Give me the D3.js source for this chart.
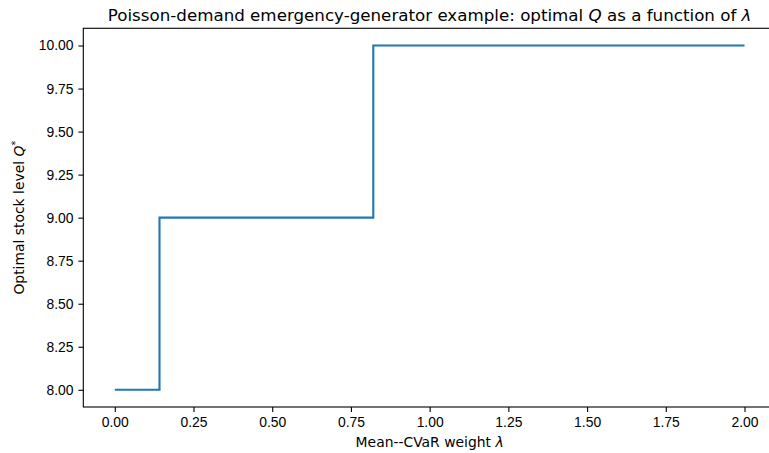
<!DOCTYPE html>
<html>
<head>
<meta charset="utf-8">
<script src="https://cdn.jsdelivr.net/npm/d3@7"></script>
<style>
  body { margin: 0; background: #fff; }
  svg { display: block; font-family: "DejaVu Sans", sans-serif; }
  .axis text { font-size: 13.9px; fill: #000; }
  .axis line, .axis path { stroke: #000; stroke-width: 1.1px; }
</style>
</head>
<body>
<div id="view"></div>
<script>
  // λ breakpoints where the optimal Q changes (step-after)
  const lambdas = [0, 0.142, 0.821, 2.0];
  const qValues = [8, 9, 10, 10];
  const xTicks = [0, 0.25, 0.5, 0.75, 1.0, 1.25, 1.5, 1.75, 2.0];
  const yTicks = [8, 8.25, 8.5, 8.75, 9, 9.25, 9.5, 9.75, 10];

  const W = 769, H = 453;
  const M = { t: 28.3, r: -7, b: 46, l: 83.3 };
  const w = W - M.l - M.r;
  const h = H - M.t - M.b;

  const svg = d3.select("#view").append("svg")
    .attr("width", W).attr("height", H);
  const g = svg.append("g").attr("transform", `translate(${M.l},${M.t})`);

  // matplotlib-ish 5% margins
  const x = d3.scaleLinear().domain([-0.1, 2.1]).range([0, w]);
  const y = d3.scaleLinear().domain([7.9, 10.1]).range([h, 0]);

  const data = lambdas.map((l, i) => ({ l, q: qValues[i] }));

  const line = d3.line()
    .x(d => x(d.l))
    .y(d => y(d.q))
    .curve(d3.curveStepAfter);

  g.append("path")
    .datum(data)
    .attr("fill", "none")
    .attr("stroke", "#1f77b4")
    .attr("stroke-width", 2.1)
    .attr("stroke-linejoin", "miter")
    .attr("d", line);

  // frame
  g.append("rect")
    .attr("x", 0).attr("y", 0).attr("width", w).attr("height", h)
    .attr("fill", "none").attr("stroke", "#000").attr("stroke-width", 1.1);

  g.append("g").attr("class", "axis")
    .attr("transform", `translate(0,${h})`)
    .call(d3.axisBottom(x).tickValues(xTicks).tickFormat(d3.format(".2f"))
      .tickSizeInner(4.9).tickSizeOuter(0).tickPadding(4.9))
    .select(".domain").remove();

  g.append("g").attr("class", "axis")
    .call(d3.axisLeft(y).tickValues(yTicks).tickFormat(d3.format(".2f"))
      .tickSizeInner(4.9).tickSizeOuter(0).tickPadding(4.9))
    .select(".domain").remove();

  // title
  const title = svg.append("text")
    .attr("x", M.l + w / 2).attr("y", 20.5)
    .attr("text-anchor", "middle")
    .style("font-size", "16.7px");
  title.append("tspan").text("Poisson-demand emergency-generator example: optimal ");
  title.append("tspan").style("font-style", "italic").text("Q");
  title.append("tspan").text(" as a function of ");
  title.append("tspan").style("font-style", "italic").text("λ");

  // x label
  const xl = svg.append("text")
    .attr("x", M.l + w / 2).attr("y", H - 6)
    .attr("text-anchor", "middle")
    .style("font-size", "13.9px");
  xl.append("tspan").text("Mean--CVaR weight ");
  xl.append("tspan").style("font-style", "italic").text("λ");

  // y label
  const yl = svg.append("text")
    .attr("transform", `translate(24,${M.t + h / 2}) rotate(-90)`)
    .attr("text-anchor", "middle")
    .style("font-size", "13.9px");
  yl.append("tspan").text("Optimal stock level ");
  yl.append("tspan").style("font-style", "italic").text("Q");
  yl.append("tspan").attr("dy", -5).style("font-size", "9.7px").text("*");
</script>
</body>
</html>
